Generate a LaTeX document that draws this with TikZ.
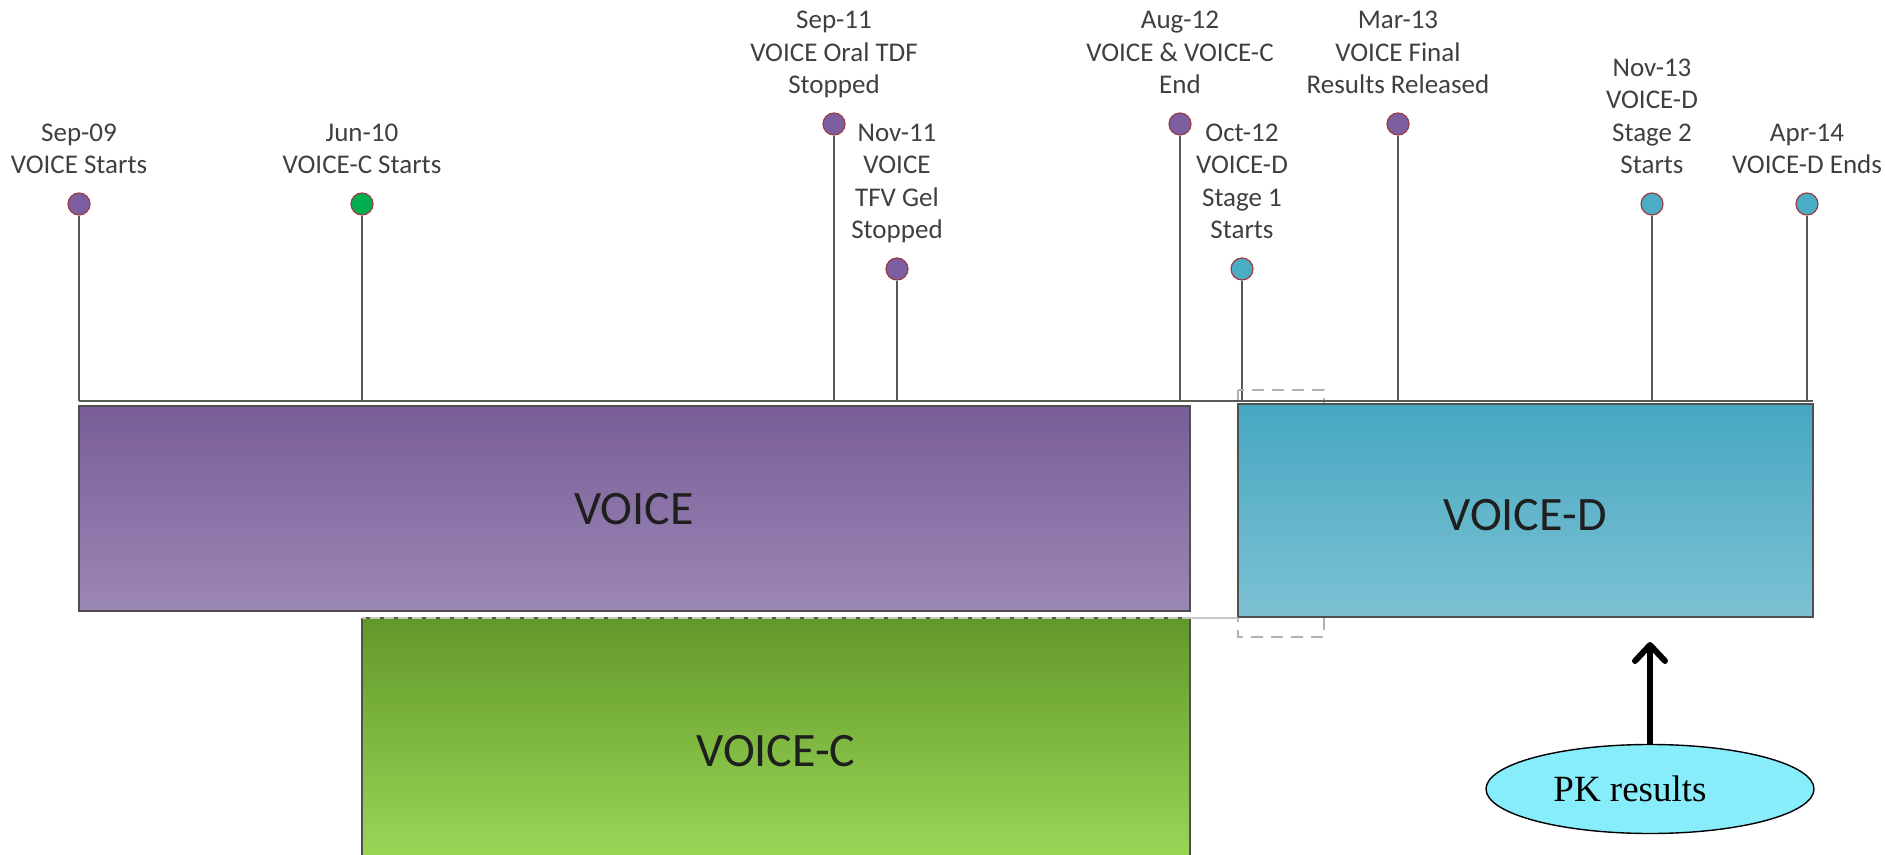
\documentclass[tikz,border=0pt]{standalone}
\usepackage{fontspec}
\setmainfont{Carlito}
\newfontfamily\pkfont{Liberation Serif}
\usepackage{tikz}
\usetikzlibrary{positioning,shapes.geometric,arrows.meta}
\pgfdeclarelayer{background}
\pgfdeclarelayer{foreground}
\pgfsetlayers{background,main,foreground}
\definecolor{stemgray}{HTML}{595959}
\definecolor{labelgray}{HTML}{3F3F3F}
\definecolor{boxedge}{HTML}{4F4F4F}
\definecolor{dotrim}{HTML}{9B3B45}
\definecolor{dotpurple}{HTML}{7B5FA1}
\definecolor{dotgreen}{HTML}{00B050}
\definecolor{dotteal}{HTML}{4BACC6}
\definecolor{purpletop}{HTML}{795E97}
\definecolor{purplebot}{HTML}{9B87B5}
\definecolor{tealtop}{HTML}{47A8C2}
\definecolor{tealbot}{HTML}{7CC1D3}
\definecolor{greentop}{HTML}{62982A}
\definecolor{greenbot}{HTML}{9BD857}
\definecolor{pkfill}{HTML}{87EDFA}

\begin{document}
\begin{tikzpicture}[x=0.5pt,y=-0.5pt,
  event/.style={circle,draw=dotrim,line width=0.6pt,minimum size=11pt,inner sep=0pt},
  datelabel/.style={align=center,inner sep=0pt,text depth=0pt,text=labelgray,
    font=\fontsize{13.5}{16.3}\selectfont},
  boxlabel/.style={text=black!88,font=\fontsize{24}{28}\selectfont},
  stem/.style={draw=stemgray,line width=1pt}]
\useasboundingbox (0,0) rectangle (1885,855);
\coordinate (axisl) at (79,401);
\coordinate (axisr) at (1813,401);

\node[event,fill=dotpurple] (sep09) at (79,204) {};
\node[event,fill=dotgreen] (jun10) at (362,204) {};
\node[event,fill=dotpurple] (sep11) at (834,124) {};
\node[event,fill=dotpurple] (nov11) at (897,269) {};
\node[event,fill=dotpurple] (aug12) at (1180,124) {};
\node[event,fill=dotteal] (oct12) at (1242,269) {};
\node[event,fill=dotpurple] (mar13) at (1398,124) {};
\node[event,fill=dotteal] (nov13) at (1652,204) {};
\node[event,fill=dotteal] (apr14) at (1807,204) {};

\node[datelabel,above=9pt of sep09] (sep09txt) {Sep-09\\VOICE Starts};
\node[datelabel,above=9pt of jun10] (jun10txt) {Jun-10\\VOICE-C Starts};
\node[datelabel,above=9pt of sep11] (sep11txt) {Sep-11\\VOICE Oral TDF\\Stopped};
\node[datelabel,above=9pt of nov11] (nov11txt) {Nov-11\\VOICE\\TFV Gel\\Stopped};
\node[datelabel,above=9pt of aug12] (aug12txt) {Aug-12\\VOICE \& VOICE-C\\End};
\node[datelabel,above=9pt of oct12] (oct12txt) {Oct-12\\VOICE-D\\Stage 1\\Starts};
\node[datelabel,above=9pt of mar13] (mar13txt) {Mar-13\\VOICE Final\\Results Released};
\node[datelabel,above=9pt of nov13] (nov13txt) {Nov-13\\VOICE-D\\Stage 2\\Starts};
\node[datelabel,above=9pt of apr14] (apr14txt) {Apr-14\\VOICE-D Ends};

\begin{pgfonlayer}{background}
\draw[stem] (sep09) -- (sep09 |- axisl);
\draw[stem] (jun10) -- (jun10 |- axisl);
\draw[stem] (sep11) -- (sep11 |- axisl);
\draw[stem] (nov11) -- (nov11 |- axisl);
\draw[stem] (aug12) -- (aug12 |- axisl);
\draw[stem] (oct12) -- (oct12 |- axisl);
\draw[stem] (mar13) -- (mar13 |- axisl);
\draw[stem] (nov13) -- (nov13 |- axisl);
\draw[stem] (apr14) -- (apr14 |- axisl);
\draw[gray!60,line width=1pt,dash pattern=on 6pt off 4pt] (1238,390) rectangle (1324,637);
\end{pgfonlayer}

\draw[stemgray,line width=1.3pt] (axisl) -- (axisr);

\shade[top color=purpletop,bottom color=purplebot,draw=boxedge,line width=1pt] (79,406) rectangle (1190,611);
\shade[top color=tealtop,bottom color=tealbot,draw=boxedge,line width=1pt] (1238,404) rectangle (1813,617);
\shade[top color=greentop,bottom color=greenbot] (362,618) rectangle (1190,862);
\draw[boxedge,line width=1pt] (362,862) -- (362,618);
\draw[boxedge,line width=1pt] (1190,618) -- (1190,862);
\draw[gray!45,line width=1pt] (362,618) -- (1238,618);
\draw[stemgray,line width=1pt,dash pattern=on 2pt off 5pt] (366,618) -- (1186,618);

\node[boxlabel] (voice) at (634,509) {VOICE};
\node[boxlabel] (voiced) at (1525,515) {VOICE-D};
\node[boxlabel] (voicec) at (776,751) {VOICE-C};

\node[ellipse,draw=black,line width=0.7pt,fill=pkfill,minimum width=164pt,minimum height=44.5pt,
  inner sep=0pt,font=\pkfont\fontsize{18.5}{22}\selectfont] (pk) at (1650,789) {PK results\kern20pt};
\coordinate (pktip) at (1650,642);
\draw[line width=3pt,-{Straight Barb[length=8pt,width=15pt,round]}] (pk.north) -- (pktip);
\end{tikzpicture}
\end{document}
